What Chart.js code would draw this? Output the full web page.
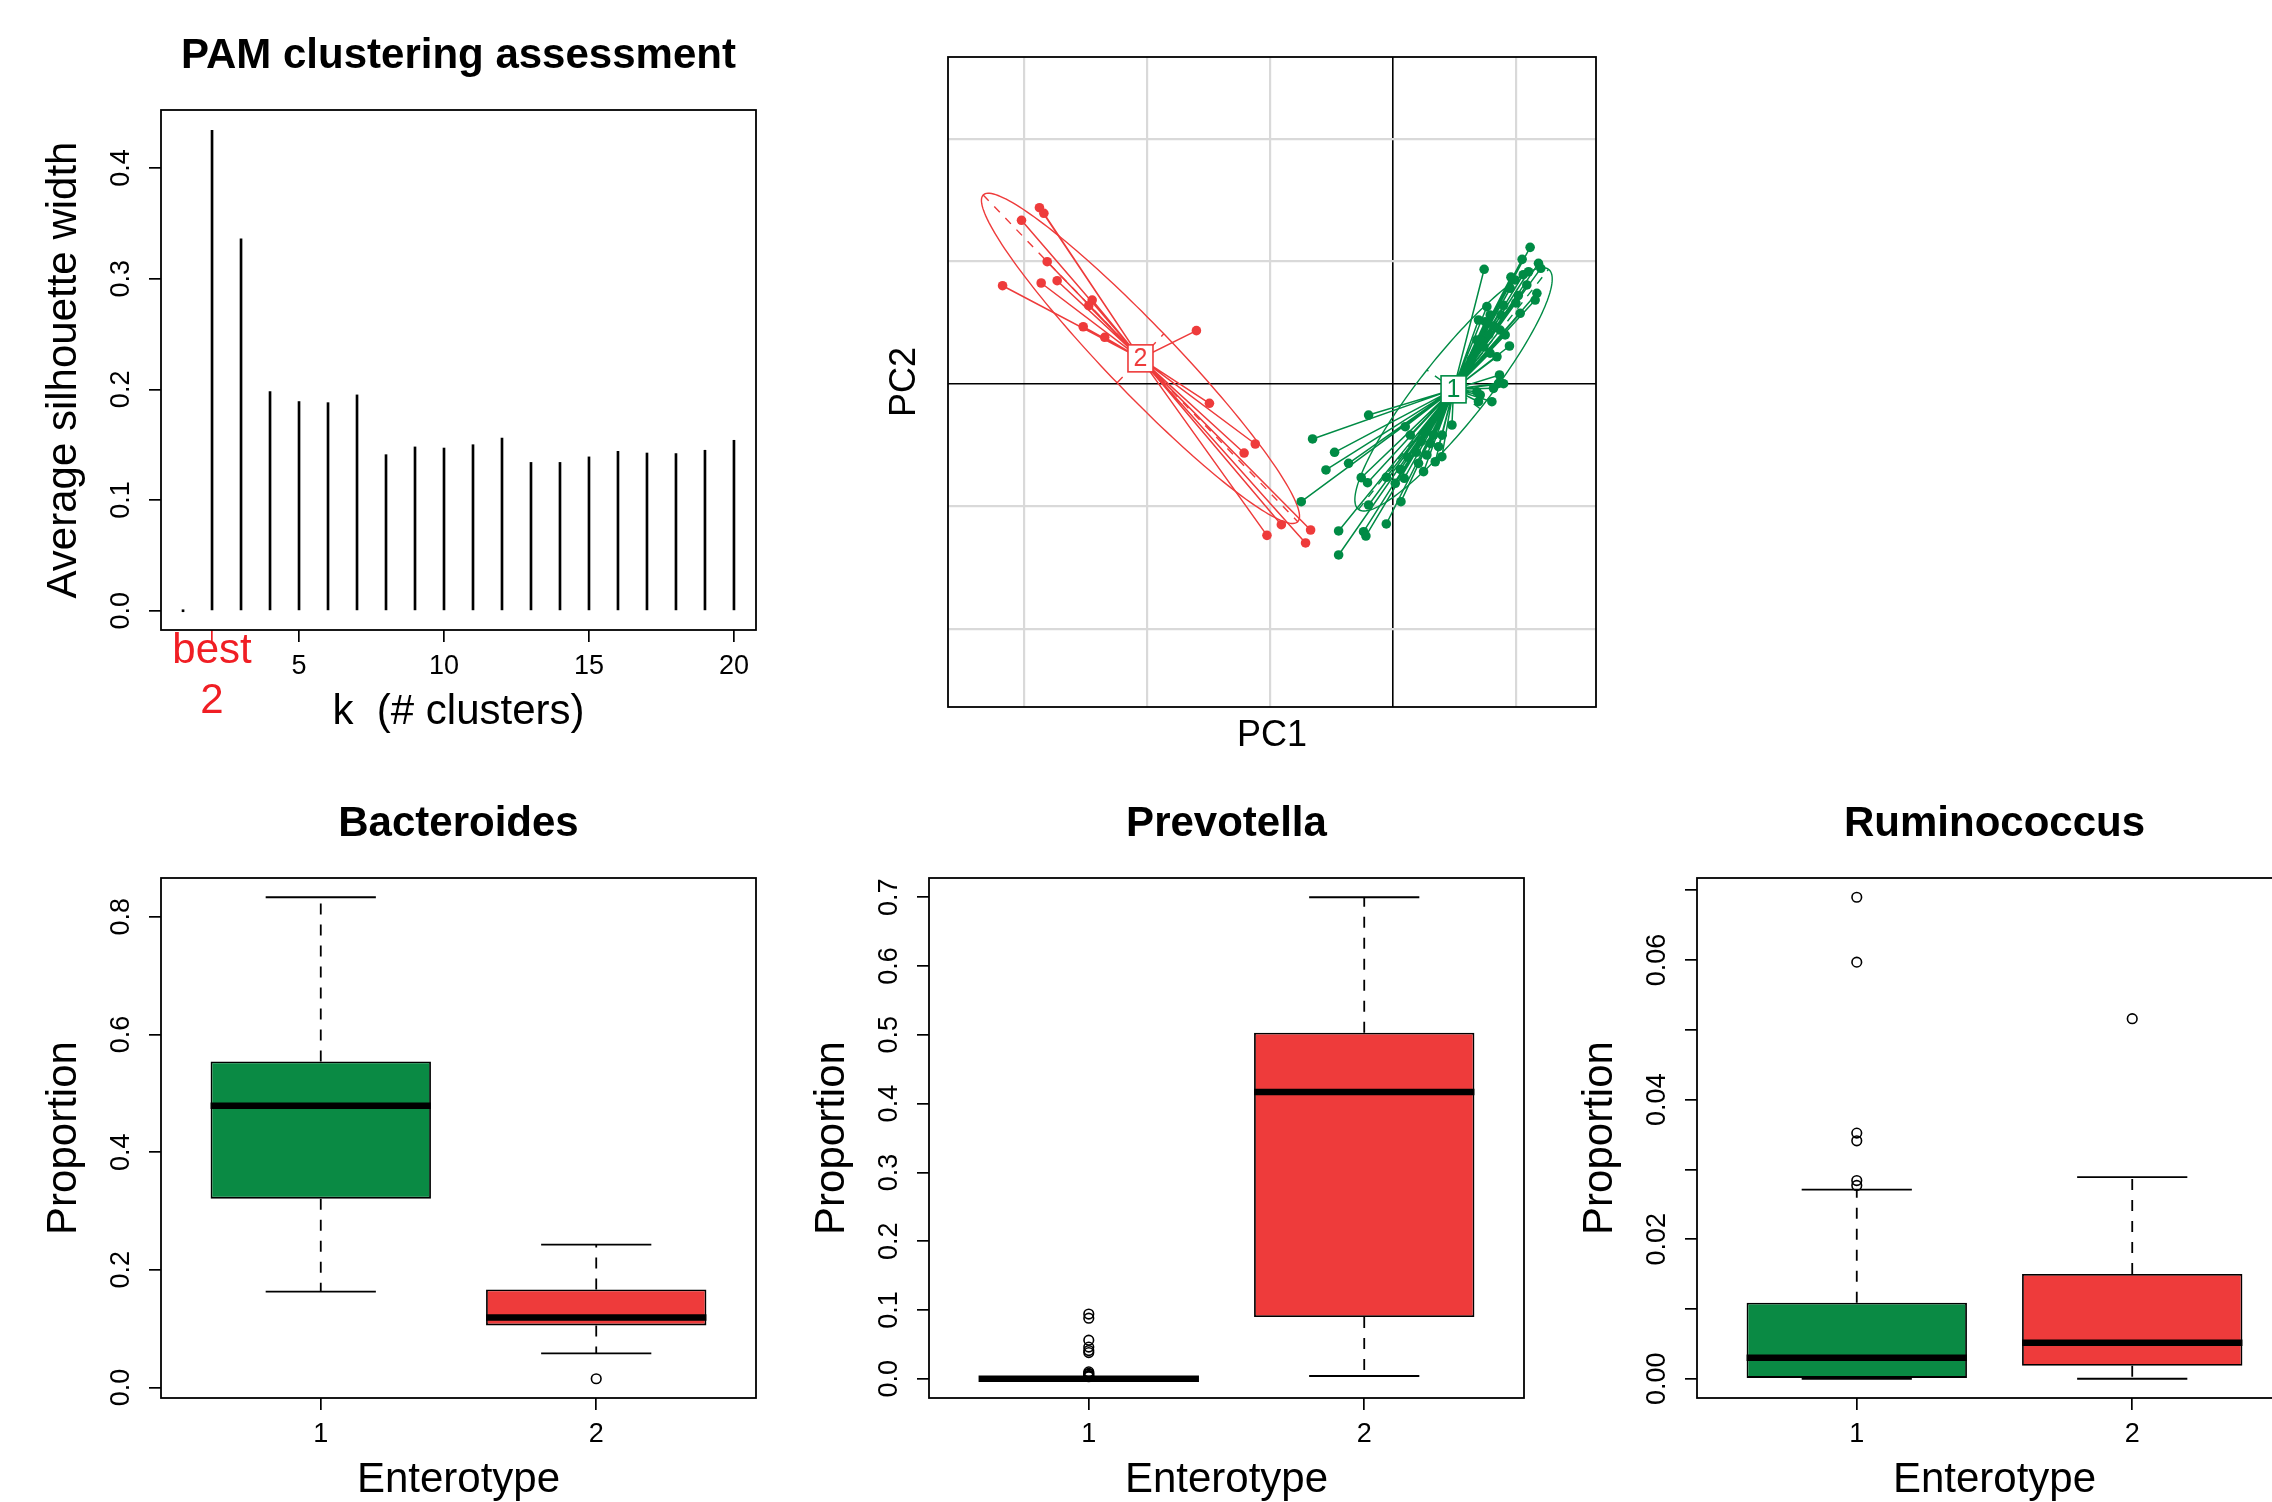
<!DOCTYPE html>
<html>
<head>
    <meta charset="utf-8" />
    <title>Enterotypes</title>
    <style>
        html, body {
            margin: 0;
            padding: 0;
            background: #fff;
        }

        body {
            position: relative;
            width: 2272px;
            height: 1502px;
            overflow: hidden;
        }

        canvas {
            position: absolute;
        }
    </style>
</head>
<body>
    <canvas id="pamChart"></canvas>
    <canvas id="pcaChart"></canvas>
    <canvas id="bactChart"></canvas>
    <canvas id="prevChart"></canvas>
    <canvas id="rumiChart"></canvas>

    <script src="https://cdn.jsdelivr.net/npm/chart.js"></script>
    <script>
        // ---- PAM clustering assessment ----
        const kValues = [1, 2, 3, 4, 5, 6, 7, 8, 9, 10, 11, 12, 13, 14, 15, 16, 17, 18, 19, 20];
        const silhouetteWidth = [0, 0.434, 0.336, 0.198, 0.189, 0.188, 0.195, 0.141, 0.148, 0.147,
            0.150, 0.156, 0.134, 0.134, 0.139, 0.144, 0.1425, 0.142, 0.145, 0.154];
        const bestK = 2;
        const pamXTicks = [2, 5, 10, 15, 20];
        const pamXTickLabels = ['', '5', '10', '15', '20'];
        const pamYTicks = [0, 0.1, 0.2, 0.3, 0.4];
        const pamYTickLabels = ['0.0', '0.1', '0.2', '0.3', '0.4'];

        // ---- PCA (between-class) ----
        const clusterLabels = ['1', '2'];
        const clusterColors = ['#008B45', '#EE3B3B'];
        const centroidX = [0.493, -2.054];
        const centroidY = [-0.046, 0.207];
        const ellipseMajorX = [0.773, 1.28];
        const ellipseMajorY = [0.98, -1.333];
        const ellipseMinorX = [-0.217, 0.19];
        const ellipseMinorY = [0.158, 0.20];
        const greenPC1 = [1.116, 1.051, 0.742, 1.184, 1.203, 1.103, 1.171, 1.157, 1.035, 1.089,
            0.994, 0.954, 0.750, 0.872, 0.913, 0.948, 0.846, 0.710, 0.867, 0.859,
            0.818, 0.805, 0.710, 0.683, 0.764, 0.791, 0.696, 0.683, 1.020, 0.900,
            0.880, 0.820, 0.780, 0.740, 0.960, 1.060, 0.900, 0.640, 0.790, 1.000,
            -0.198, -0.654, -0.475, -0.545, -0.361, -0.746, -0.258, -0.207, -0.198, -0.442,
            -0.239, -0.220, -0.442, -0.054, 0.065, 0.019, -0.054, 0.092, 0.100, 0.141,
            0.480, 0.249, 0.208, 0.276, 0.344, 0.398, 0.371, 0.303, 0.696, 0.190,
            0.230, 0.120, 0.060, 0.330, 0.400];
        const greenPC2 = [1.113, 1.015, 0.934, 0.983, 0.942, 0.914, 0.738, 0.683, 0.575, 0.806,
            0.847, 0.779, 0.506, 0.438, 0.398, 0.308, 0.220, 0.357, 0.071, 0.003,
            -0.038, -0.147, -0.092, -0.065, 0.629, 0.561, 0.520, 0.357, 0.720, 0.640,
            0.560, 0.470, 0.400, 0.300, 0.870, 0.890, 0.000, 0.200, 0.250, 0.660,
            -0.256, -0.451, -0.560, -0.704, -0.650, -0.963, -0.767, -0.808, -0.990, -1.202,
            -1.208, -1.243, -1.398, -1.145, -0.963, -0.813, -0.764, -0.772, -0.351, -0.419,
            -0.337, -0.718, -0.650, -0.582, -0.637, -0.596, -0.514, -0.487, -0.147, -0.560,
            -0.470, -0.600, -0.700, -0.420, -0.420];
        const redPC1 = [-2.876, -2.840, -3.022, -2.813, -3.176, -2.862, -2.732, -2.447, -2.475, -2.520,
            -2.345, -1.599, -1.493, -1.120, -1.211, -0.908, -1.025, -0.670, -0.711];
        const redPC2 = [1.437, 1.391, 1.334, 0.996, 0.800, 0.822, 0.841, 0.683, 0.637, 0.465,
            0.379, 0.433, -0.160, -0.492, -0.566, -1.151, -1.238, -1.194, -1.300];
        const pcaGridX = [-3, -2, -1, 0, 1];
        const pcaGridY = [-2, -1, 0, 1, 2];

        // ---- boxplots by enterotype ----
        const enterotypes = [1, 2];
        const boxColors = ['#0A8A44', '#EE3B3B'];
        const boxXTickLabels = ['1', '2'];

        const bactLower = [0.163, 0.058];
        const bactQ1 = [0.321, 0.1056];
        const bactMedian = [0.479, 0.119];
        const bactQ3 = [0.554, 0.1666];
        const bactUpper = [0.833, 0.243];
        const bactOutliers = [[], [0.015]];
        const bactYTicks = [0, 0.2, 0.4, 0.6, 0.8];
        const bactYTickLabels = ['0.0', '0.2', '0.4', '0.6', '0.8'];

        const prevLower = [0, 0.004];
        const prevQ1 = [0, 0.0897];
        const prevMedian = [0, 0.417];
        const prevQ3 = [0, 0.503];
        const prevUpper = [0, 0.700];
        const prevOutliers = [[0.094, 0.088, 0.056, 0.046, 0.041, 0.038, 0.010, 0.008, 0.007, 0.005, 0.004, 0.003], []];
        const prevYTicks = [0, 0.1, 0.2, 0.3, 0.4, 0.5, 0.6, 0.7];
        const prevYTickLabels = ['0.0', '0.1', '0.2', '0.3', '0.4', '0.5', '0.6', '0.7'];

        const rumiLower = [0, 0];
        const rumiQ1 = [0, 0.00185];
        const rumiMedian = [0.003, 0.00515];
        const rumiQ3 = [0.0109, 0.015];
        const rumiUpper = [0.0271, 0.0289];
        const rumiOutliers = [[0.0277, 0.0284, 0.0341, 0.0352, 0.0597, 0.069], [0.0516]];
        const rumiYTicks = [0, 0.01, 0.02, 0.03, 0.04, 0.05, 0.06, 0.07];
        const rumiYTickLabels = ['0.00', '', '0.02', '', '0.04', '', '0.06', ''];

        // ---- layout ----
        const FONT = '"Liberation Sans", Arial, Helvetica, sans-serif';
        const TICK_SIZE = 27;
        const BEST_RED = '#F01E24';
        const R_FRAME = { left: 161, top: 110, right: 20, bottom: 130 };
        const PCA_FRAME = { left: 80, top: 20, right: 20, bottom: 70 };

        const measureCtx = document.createElement('canvas').getContext('2d');
        function widestLabel(labels) {
            measureCtx.font = TICK_SIZE + 'px ' + FONT;
            return Math.max(...labels.map(l => measureCtx.measureText(l).width));
        }

        function setupCanvas(id, box, frame) {
            const c = document.getElementById(id);
            const w = frame.left + box.w + frame.right;
            const h = frame.top + box.h + frame.bottom;
            c.width = w;
            c.height = h;
            c.style.left = (box.x - frame.left) + 'px';
            c.style.top = (box.y - frame.top) + 'px';
            return c;
        }

        const frameBox = {
            id: 'frameBox',
            afterDraw(chart) {
                const a = chart.chartArea, ctx = chart.ctx;
                ctx.save();
                ctx.strokeStyle = '#000';
                ctx.lineWidth = 1.8;
                ctx.strokeRect(a.left, a.top, a.right - a.left, a.bottom - a.top);
                ctx.restore();
            }
        };

        function panelTitle(text) {
            return {
                id: 'panelTitle',
                afterDraw(chart) {
                    const a = chart.chartArea, ctx = chart.ctx;
                    ctx.save();
                    ctx.font = 'bold 42px ' + FONT;
                    ctx.fillStyle = '#000';
                    ctx.textAlign = 'center';
                    ctx.textBaseline = 'middle';
                    ctx.fillText(text, (a.left + a.right) / 2, a.top - 54);
                    ctx.restore();
                }
            };
        }

        function rAxisX(min, max, ticks, labels, title, tickColor) {
            return {
                type: 'linear', position: 'bottom', min: min, max: max, bounds: 'data', offset: false,
                afterBuildTicks: s => { s.ticks = ticks.map(v => ({ value: v })); },
                afterFit: s => { s.height = R_FRAME.bottom; },
                ticks: {
                    autoSkip: false, maxRotation: 0, minRotation: 0, padding: 8.8, color: '#000',
                    font: { family: FONT, size: TICK_SIZE },
                    callback: (v, i) => labels[i]
                },
                grid: { drawOnChartArea: false, drawTicks: true, tickLength: 12, lineWidth: 1.7, color: tickColor || '#000', offset: false },
                border: { display: false },
                title: { display: true, text: title, color: '#000', font: { family: FONT, size: 42 }, padding: { top: 0, bottom: 22.3 } }
            };
        }

        function rAxisY(min, max, ticks, labels, title) {
            return {
                type: 'linear', position: 'left', min: min, max: max, bounds: 'data',
                afterBuildTicks: s => { s.ticks = ticks.map(v => ({ value: v })); },
                afterFit: s => { s.width = R_FRAME.left; },
                ticks: {
                    autoSkip: false, minRotation: 90, maxRotation: 90, crossAlign: 'center',
                    padding: 27.5 - widestLabel(labels) / 2, color: '#000',
                    font: { family: FONT, size: TICK_SIZE },
                    callback: (v, i) => labels[i]
                },
                grid: { drawOnChartArea: false, drawTicks: true, tickLength: 12, lineWidth: 1.7, color: '#000' },
                border: { display: false },
                title: { display: true, text: title, color: '#000', font: { family: FONT, size: 42 }, padding: { top: 38.8, bottom: 0 } }
            };
        }

        const baseOptions = frame => ({
            responsive: false,
            animation: false,
            events: [],
            layout: { padding: { left: 0, top: frame.top, right: frame.right, bottom: 0 } },
            plugins: { legend: { display: false }, tooltip: { enabled: false } }
        });

        // ---- PAM chart ----
        const pamCanvas = setupCanvas('pamChart', { x: 161, y: 110, w: 595, h: 520 }, R_FRAME);
        const bestLabel = {
            id: 'bestLabel',
            afterDraw(chart) {
                const ctx = chart.ctx;
                const x = chart.scales.x.getPixelForValue(bestK);
                const b = chart.chartArea.bottom;
                ctx.save();
                ctx.font = '42px ' + FONT;
                ctx.fillStyle = BEST_RED;
                ctx.textAlign = 'center';
                ctx.textBaseline = 'middle';
                ctx.fillText('best', x, b + 21);
                ctx.fillText(String(bestK), x, b + 71);
                ctx.restore();
            }
        };
        new Chart(pamCanvas, {
            type: 'bar',
            data: {
                datasets: [{
                    data: kValues.map((k, i) => ({ x: k, y: silhouetteWidth[i] })),
                    backgroundColor: '#000',
                    barThickness: 2,
                    minBarLength: 2
                }]
            },
            options: Object.assign(baseOptions(R_FRAME), {
                scales: {
                    x: rAxisX(0.24, 20.76, pamXTicks, pamXTickLabels, 'k  (# clusters)',
                        c => (c.tick && c.tick.value === bestK ? BEST_RED : '#000')),
                    y: rAxisY(-0.0174, 0.4524, pamYTicks, pamYTickLabels, 'Average silhouette width')
                }
            }),
            plugins: [frameBox, panelTitle('PAM clustering assessment'), bestLabel]
        });

        // ---- PCA chart ----
        const pcaCanvas = setupCanvas('pcaChart', { x: 948, y: 57, w: 648, h: 650 }, PCA_FRAME);
        function pcaAxis(axis, min, max, grid, title) {
            return {
                type: 'linear', position: axis === 'x' ? 'bottom' : 'left', min: min, max: max, bounds: 'data',
                afterBuildTicks: s => { s.ticks = grid.map(v => ({ value: v })); },
                afterFit: s => { if (axis === 'x') s.height = PCA_FRAME.bottom; else s.width = PCA_FRAME.left; },
                ticks: { display: false },
                grid: {
                    drawTicks: false,
                    color: c => (c.tick && c.tick.value === 0 ? '#000' : '#d9d9d9'),
                    lineWidth: c => (c.tick && c.tick.value === 0 ? 1.6 : 2.2)
                },
                border: { display: false },
                title: {
                    display: true, text: title, color: '#000', font: { family: FONT, size: 36 },
                    padding: axis === 'x' ? { top: 0, bottom: 19.4 } : { top: 15.4, bottom: 0 }
                }
            };
        }
        const starData = (xs, ys, i) => xs.flatMap((x, j) => [{ x: centroidX[i], y: centroidY[i] }, { x: x, y: ys[j] }]);
        const pointData = (xs, ys) => xs.map((x, j) => ({ x: x, y: ys[j] }));
        const pcaOverlay = {
            id: 'pcaOverlay',
            beforeDatasetsDraw(chart) {
                const xs = chart.scales.x, ys = chart.scales.y, ctx = chart.ctx;
                const px = v => xs.getPixelForValue(v), py = v => ys.getPixelForValue(v);
                ctx.save();
                clusterLabels.forEach((lab, i) => {
                    const cx = centroidX[i], cy = centroidY[i];
                    const ax = ellipseMajorX[i], ay = ellipseMajorY[i];
                    const bx = ellipseMinorX[i], by = ellipseMinorY[i];
                    ctx.strokeStyle = clusterColors[i];
                    ctx.lineWidth = 1.4;
                    ctx.setLineDash([]);
                    ctx.beginPath();
                    for (let s = 0; s <= 180; s++) {
                        const t = s / 180 * 2 * Math.PI;
                        const X = px(cx + ax * Math.cos(t) + bx * Math.sin(t));
                        const Y = py(cy + ay * Math.cos(t) + by * Math.sin(t));
                        if (s) ctx.lineTo(X, Y); else ctx.moveTo(X, Y);
                    }
                    ctx.closePath();
                    ctx.stroke();
                    ctx.setLineDash([8, 8]);
                    ctx.beginPath();
                    ctx.moveTo(px(cx - ax), py(cy - ay));
                    ctx.lineTo(px(cx + ax), py(cy + ay));
                    ctx.moveTo(px(cx - bx), py(cy - by));
                    ctx.lineTo(px(cx + bx), py(cy + by));
                    ctx.stroke();
                });
                ctx.restore();
            },
            afterDatasetsDraw(chart) {
                const xs = chart.scales.x, ys = chart.scales.y, ctx = chart.ctx;
                ctx.save();
                clusterLabels.forEach((lab, i) => {
                    const X = xs.getPixelForValue(centroidX[i]);
                    const Y = ys.getPixelForValue(centroidY[i]);
                    ctx.fillStyle = '#fff';
                    ctx.strokeStyle = clusterColors[i];
                    ctx.lineWidth = 1.6;
                    ctx.fillRect(X - 12.5, Y - 13.5, 25, 27);
                    ctx.strokeRect(X - 12.5, Y - 13.5, 25, 27);
                    ctx.fillStyle = clusterColors[i];
                    ctx.font = '25px ' + FONT;
                    ctx.textAlign = 'center';
                    ctx.textBaseline = 'middle';
                    ctx.fillText(lab, X, Y + 1);
                });
                ctx.restore();
            }
        };
        new Chart(pcaCanvas, {
            type: 'scatter',
            data: {
                datasets: [
                    { data: starData(greenPC1, greenPC2, 0), showLine: true, borderColor: clusterColors[0], borderWidth: 1.5, pointRadius: 0, order: 5 },
                    { data: starData(redPC1, redPC2, 1), showLine: true, borderColor: clusterColors[1], borderWidth: 1.5, pointRadius: 0, order: 5 },
                    { data: pointData(greenPC1, greenPC2), backgroundColor: clusterColors[0], borderWidth: 0, pointRadius: 4.8, order: 2 },
                    { data: pointData(redPC1, redPC2), backgroundColor: clusterColors[1], borderWidth: 0, pointRadius: 4.8, order: 2 }
                ]
            },
            options: Object.assign(baseOptions(PCA_FRAME), {
                scales: {
                    x: pcaAxis('x', -3.62, 1.652, pcaGridX, 'PC1'),
                    y: pcaAxis('y', -2.639, 2.667, pcaGridY, 'PC2')
                }
            }),
            plugins: [frameBox, pcaOverlay]
        });

        // ---- boxplots ----
        function boxplotChart(id, box, title, s, yMin, yMax, yTicks, yLabels) {
            const canvas = setupCanvas(id, box, R_FRAME);
            const half = 0.4, cap = 0.2;
            const boxes = enterotypes.map((g, i) => ({ x: g, y: [s.q1[i], s.q3[i]] }));
            const medians = enterotypes.flatMap((g, i) => [
                { x: g - half, y: s.median[i] }, { x: g + half, y: s.median[i] }, { x: g + half, y: null }]);
            const whiskers = enterotypes.flatMap((g, i) => [
                { x: g, y: s.q3[i] }, { x: g, y: s.upper[i] }, { x: g, y: null },
                { x: g, y: s.q1[i] }, { x: g, y: s.lower[i] }, { x: g, y: null }]);
            const caps = enterotypes.flatMap((g, i) => [
                { x: g - cap, y: s.upper[i] }, { x: g + cap, y: s.upper[i] }, { x: g, y: null },
                { x: g - cap, y: s.lower[i] }, { x: g + cap, y: s.lower[i] }, { x: g, y: null }]);
            const outliers = enterotypes.flatMap((g, i) => s.outliers[i].map(v => ({ x: g, y: v })));

            new Chart(canvas, {
                type: 'bar',
                data: {
                    datasets: [
                        { type: 'line', data: medians, borderColor: '#000', borderWidth: 6.5, pointRadius: 0, spanGaps: false, order: 0 },
                        { type: 'scatter', data: outliers, pointRadius: 4.8, pointStyle: 'circle', borderColor: '#000', borderWidth: 1.6, backgroundColor: 'rgba(0,0,0,0)', order: 1 },
                        { type: 'line', data: caps, borderColor: '#000', borderWidth: 1.8, pointRadius: 0, spanGaps: false, order: 2 },
                        { type: 'line', data: whiskers, borderColor: '#000', borderWidth: 1.8, borderDash: [11, 10], pointRadius: 0, spanGaps: false, order: 2 },
                        { data: boxes, backgroundColor: boxColors, borderColor: '#000', borderWidth: 1.8, borderSkipped: false, barPercentage: 0.8, categoryPercentage: 1, order: 4 }
                    ]
                },
                options: Object.assign(baseOptions(R_FRAME), {
                    scales: {
                        x: rAxisX(0.42, 2.58, enterotypes, boxXTickLabels, 'Enterotype'),
                        y: rAxisY(yMin, yMax, yTicks, yLabels, 'Proportion')
                    }
                }),
                plugins: [frameBox, panelTitle(title)]
            });
        }

        boxplotChart('bactChart', { x: 161, y: 878, w: 595, h: 520 }, 'Bacteroides',
            { lower: bactLower, q1: bactQ1, median: bactMedian, q3: bactQ3, upper: bactUpper, outliers: bactOutliers },
            -0.0177, 0.8657, bactYTicks, bactYTickLabels);
        boxplotChart('prevChart', { x: 929, y: 878, w: 595, h: 520 }, 'Prevotella',
            { lower: prevLower, q1: prevQ1, median: prevMedian, q3: prevQ3, upper: prevUpper, outliers: prevOutliers },
            -0.028, 0.728, prevYTicks, prevYTickLabels);
        boxplotChart('rumiChart', { x: 1697, y: 878, w: 595, h: 520 }, 'Ruminococcus',
            { lower: rumiLower, q1: rumiQ1, median: rumiMedian, q3: rumiQ3, upper: rumiUpper, outliers: rumiOutliers },
            -0.00276, 0.07176, rumiYTicks, rumiYTickLabels);
    </script>
</body>
</html>
